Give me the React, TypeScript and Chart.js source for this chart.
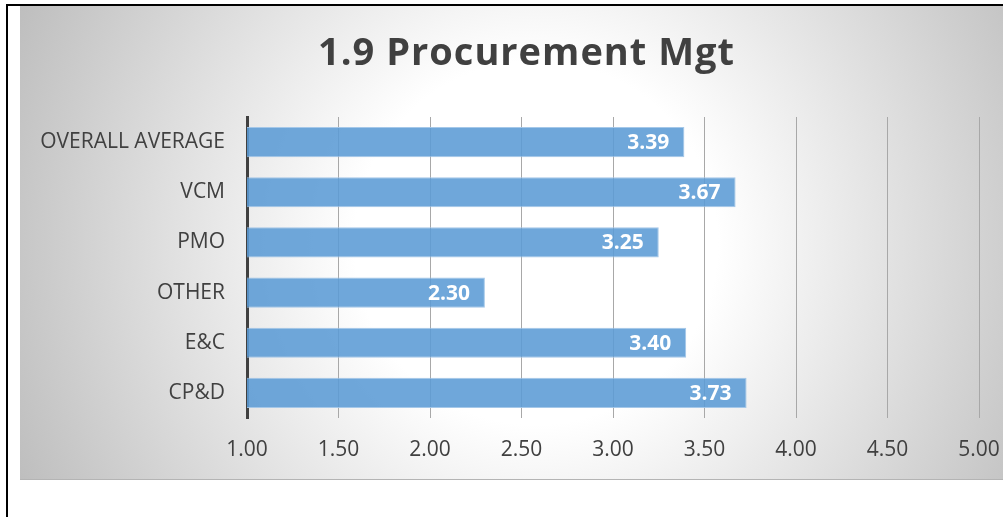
import React, { useEffect, useRef } from "react";
import { Chart, registerables } from "chart.js";

Chart.register(...registerables);

const TITLE = "1.9 Procurement Mgt";
const categories = ["OVERALL AVERAGE", "VCM", "PMO", "OTHER", "E&C", "CP&D"];
const scores = [3.39, 3.67, 3.25, 2.3, 3.4, 3.73];
const AXIS_MIN = 1;
const AXIS_MAX = 5;
const AXIS_STEP = 0.5;

const FONT = "'Open Sans', 'Noto Sans', sans-serif";
const TEXT_COLOR = "#404040";

const backgroundPlugin = {
  id: "excelBackground",
  beforeDraw(chart: any) {
    const ctx = chart.ctx as CanvasRenderingContext2D;
    const w = chart.width;
    const h = chart.height;
    ctx.save();
    ctx.fillStyle = "#ffffff";
    ctx.fillRect(0, 0, w, h);
    const x0 = 20, y0 = 6, x1 = w, y1 = 480;
    const cx = (x0 + x1) / 2;
    const cy = (y0 + y1) / 2;
    const r = Math.hypot(x1 - cx, y1 - cy);
    const g = ctx.createRadialGradient(cx, cy, 0, cx, cy, r);
    g.addColorStop(0, "#ffffff");
    g.addColorStop(0.32, "#ffffff");
    g.addColorStop(1, "#bebebe");
    ctx.fillStyle = g;
    ctx.fillRect(x0, y0, x1 - x0, y1 - y0);
    ctx.fillStyle = "#b4b4b4";
    ctx.fillRect(x0, y1 - 1, x1 - x0, 1);
    ctx.fillStyle = "#000000";
    ctx.fillRect(6, 4, 2, h - 4);
    ctx.fillRect(6, 4, w - 6, 2);
    ctx.restore();
  },
};

const titlePlugin = {
  id: "chartTitle",
  afterDraw(chart: any) {
    const ctx = chart.ctx as any;
    const spacing = 1;
    ctx.save();
    ctx.fillStyle = TEXT_COLOR;
    ctx.font = `bold 38px ${FONT}`;
    ctx.letterSpacing = `${spacing}px`;
    ctx.textAlign = "left";
    ctx.textBaseline = "alphabetic";
    const w = ctx.measureText(TITLE).width - spacing;
    const cx = chart.width / 2;
    ctx.fillText(TITLE, cx - w / 2, 64.5);
    ctx.restore();
  },
};

const valueLabelPlugin = {
  id: "valueLabels",
  afterDatasetsDraw(chart: any) {
    const ctx = chart.ctx as CanvasRenderingContext2D;
    const meta = chart.getDatasetMeta(0);
    const data = chart.data.datasets[0].data as number[];
    ctx.save();
    ctx.fillStyle = "#ffffff";
    ctx.font = `bold 21px ${FONT}`;
    ctx.textAlign = "right";
    ctx.textBaseline = "middle";
    meta.data.forEach((bar: any, i: number) => {
      ctx.fillText(data[i].toFixed(2), bar.x - 15, bar.y + 1);
    });
    ctx.restore();
  },
};

export default function App() {
  const canvasRef = useRef<HTMLCanvasElement | null>(null);

  useEffect(() => {
    if (!canvasRef.current) return;
    const chart = new Chart(canvasRef.current, {
      type: "bar",
      data: {
        labels: categories,
        datasets: [
          {
            data: scores,
            backgroundColor: "rgba(91,155,213,0.88)",
            borderColor: "rgba(160,197,232,0.95)",
            borderWidth: 1,
            borderSkipped: false,
            categoryPercentage: 0.6,
            barPercentage: 1.0,
          },
        ],
      },
      options: {
        indexAxis: "y",
        animation: false,
        responsive: false,
        maintainAspectRatio: false,
        layout: { padding: { left: 0, right: 73, top: 117, bottom: 39 } },
        plugins: {
          legend: { display: false },
          tooltip: { enabled: false },
          title: { display: false },
        },
        scales: {
          x: {
            type: "linear",
            min: AXIS_MIN,
            max: AXIS_MAX,
            afterFit: (scale: any) => {
              scale.height = 60;
            },
            ticks: {
              stepSize: AXIS_STEP,
              color: TEXT_COLOR,
              font: { family: FONT, size: 21 },
              padding: 19,
              callback: (v: any) => Number(v).toFixed(2),
            },
            grid: { color: "#a8a8a8", lineWidth: 1, drawTicks: false },
            border: { display: false },
          },
          y: {
            afterFit: (scale: any) => {
              scale.width = 247;
            },
            ticks: {
              color: TEXT_COLOR,
              font: { family: FONT, size: 21 },
              padding: 22,
            },
            grid: { display: false, drawTicks: false },
            border: { display: true, color: "#404040", width: 3 },
          },
        },
      },
      plugins: [backgroundPlugin, titlePlugin, valueLabelPlugin],
    });
    return () => chart.destroy();
  }, []);

  return (
    <div
      style={{
        position: "absolute",
        left: 0,
        top: 0,
        width: 1003,
        height: 517,
        overflow: "hidden",
        background: "#ffffff",
      }}
    >
      <canvas
        ref={canvasRef}
        width={1052}
        height={517}
        style={{ width: 1052, height: 517, display: "block" }}
      />
    </div>
  );
}
